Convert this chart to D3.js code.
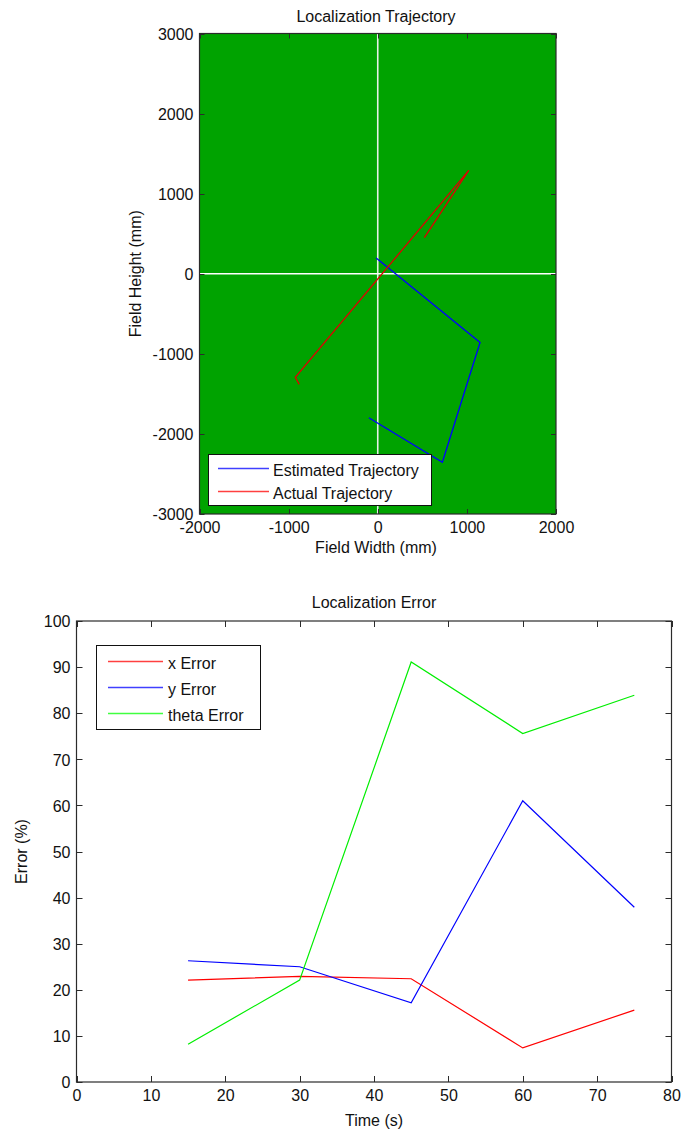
<!DOCTYPE html>
<html>
<head>
<meta charset="utf-8">
<script src="https://cdn.jsdelivr.net/npm/d3@7/dist/d3.min.js"></script>
<style>
  html, body { margin: 0; padding: 0; background: #fff; }
  svg { display: block; }
  text { font-family: "Liberation Sans", Arial, Helvetica, sans-serif; font-size: 16px; fill: #111; }
</style>
</head>
<body>
<svg id="chart" width="681" height="1133"></svg>
<script>
// ---- Trajectory data (mm) ----
const estX = [-18, 1148, 725, -100];
const estY = [197, -858, -2354, -1798];
const actX = [-881, -925, 1021, 523];
const actY = [-1381, -1294, 1290, 451];
const fieldXTicks = [-2000, -1000, 0, 1000, 2000];
const fieldYTicks = [-3000, -2000, -1000, 0, 1000, 2000, 3000];

// ---- Error data (%) over time (s) ----
const time = [15, 30, 45, 60, 75];
const xError = [22.1, 22.9, 22.4, 7.4, 15.6];
const yError = [26.3, 25.0, 17.2, 61.0, 37.9];
const thetaError = [8.2, 22.1, 91.1, 75.6, 83.9];
const timeTicks = [0, 10, 20, 30, 40, 50, 60, 70, 80];
const errorTicks = [0, 10, 20, 30, 40, 50, 60, 70, 80, 90, 100];

const svg = d3.select("#chart");
const axisColor = "#2b2b2b";
const fmt = v => String(v); // plain hyphen for negatives

// Draws a boxed axes frame with inward ticks on all four sides
function frame(g, x, y, xTicks, yTicks, tickLen) {
  const [x0, x1] = x.range();
  const [y0, y1] = y.range(); // y0 bottom, y1 top
  g.append("rect")
    .attr("x", x0).attr("y", y1)
    .attr("width", x1 - x0).attr("height", y0 - y1)
    .attr("fill", "none").attr("stroke", axisColor).attr("stroke-width", 1.2);

  xTicks.forEach(v => {
    const px = Math.round(x(v)) + 0.5;
    g.append("line").attr("x1", px).attr("x2", px).attr("y1", y0).attr("y2", y0 - tickLen)
      .attr("stroke", axisColor);
    g.append("line").attr("x1", px).attr("x2", px).attr("y1", y1).attr("y2", y1 + tickLen)
      .attr("stroke", axisColor);
  });
  yTicks.forEach(v => {
    const py = Math.round(y(v)) + 0.5;
    g.append("line").attr("x1", x0).attr("x2", x0 + tickLen).attr("y1", py).attr("y2", py)
      .attr("stroke", axisColor);
    g.append("line").attr("x1", x1).attr("x2", x1 - tickLen).attr("y1", py).attr("y2", py)
      .attr("stroke", axisColor);
  });

  // tick labels through d3 axes
  const ax = g.append("g").attr("transform", `translate(0,${y0})`)
    .call(d3.axisBottom(x).tickValues(xTicks).tickSize(0).tickPadding(19).tickFormat(fmt));
  ax.select(".domain").remove();
  ax.selectAll("text").attr("fill", "#111").style("font-size", "16px")
    .style("font-family", "'Liberation Sans', Arial, sans-serif").attr("dy", 0);

  const ay = g.append("g").attr("transform", `translate(${x0},0)`)
    .call(d3.axisLeft(y).tickValues(yTicks).tickSize(0).tickPadding(6).tickFormat(fmt));
  ay.select(".domain").remove();
  ay.selectAll("text").attr("fill", "#111").style("font-size", "16px")
    .style("font-family", "'Liberation Sans', Arial, sans-serif").attr("dy", "0.36em");
}

function legend(g, x, y, w, h, items, lineX0, lineX1, textX, rows, baseOff) {
  g.append("rect").attr("x", x + 0.5).attr("y", y + 0.5).attr("width", w).attr("height", h)
    .attr("fill", "#fff").attr("stroke", "#111").attr("stroke-width", 1);
  items.forEach((it, i) => {
    const ry = rows[i];
    g.append("line").attr("x1", lineX0).attr("x2", lineX1).attr("y1", ry).attr("y2", ry)
      .attr("stroke", it.color).attr("stroke-width", 1.6);
    g.append("text").attr("x", textX).attr("y", ry + baseOff).text(it.label);
  });
}

// ================= Localization Trajectory =================
{
  const x = d3.scaleLinear().domain([-2000, 2000]).range([199.5, 556]);
  const y = d3.scaleLinear().domain([-3000, 3000]).range([514, 33.5]);
  const g = svg.append("g");

  g.append("rect").attr("x", x(-2000)).attr("y", y(3000))
    .attr("width", x(2000) - x(-2000)).attr("height", y(-3000) - y(3000))
    .attr("fill", "#00a300");

  // field centre lines
  g.append("line").attr("x1", x(0)).attr("x2", x(0)).attr("y1", y(3000)).attr("y2", y(-3000))
    .attr("stroke", "#e6f0e6").attr("stroke-width", 1.6);
  g.append("line").attr("x1", x(-2000)).attr("x2", x(2000)).attr("y1", y(0)).attr("y2", y(0))
    .attr("stroke", "#ffffff").attr("stroke-width", 1.6);

  const line = d3.line().x(d => x(d[0])).y(d => y(d[1]));
  g.append("path").datum(estX.map((v, i) => [v, estY[i]]))
    .attr("d", line).attr("fill", "none").attr("stroke", "#0000ff").attr("stroke-width", 1.3);
  g.append("path").datum(actX.map((v, i) => [v, actY[i]]))
    .attr("d", line).attr("fill", "none").attr("stroke", "#e00000").attr("stroke-width", 1.3);

  frame(g, x, y, fieldXTicks, fieldYTicks, 5);

  g.append("text").attr("x", 376).attr("y", 22).attr("text-anchor", "middle").text("Localization Trajectory");
  g.append("text").attr("x", 376).attr("y", 553).attr("text-anchor", "middle").text("Field Width (mm)");
  g.append("text").attr("transform", `translate(141,${(y(3000) + y(-3000)) / 2}) rotate(-90)`)
    .attr("text-anchor", "middle").text("Field Height (mm)");

  legend(g, 208, 454, 223, 51,
    [{ label: "Estimated Trajectory", color: "#4040ff" }, { label: "Actual Trajectory", color: "#ff4040" }],
    218, 269, 273, [468.5, 491.5], 7);
}

// ================= Localization Error =================
{
  const x = d3.scaleLinear().domain([0, 80]).range([76.5, 671.5]);
  const y = d3.scaleLinear().domain([0, 100]).range([1082, 621]);
  const g = svg.append("g");

  frame(g, x, y, timeTicks, errorTicks, 6);

  const line = d3.line().x((d, i) => x(time[i])).y(d => y(d));
  const series = [
    { data: xError, color: "#ff0000" },
    { data: yError, color: "#0000ff" },
    { data: thetaError, color: "#00ee00" }
  ];
  series.forEach(s => {
    g.append("path").datum(s.data).attr("d", line)
      .attr("fill", "none").attr("stroke", s.color).attr("stroke-width", 1.2);
  });

  g.append("text").attr("x", 374).attr("y", 608).attr("text-anchor", "middle").text("Localization Error");
  g.append("text").attr("x", 374).attr("y", 1126).attr("text-anchor", "middle").text("Time (s)");
  g.append("text").attr("transform", `translate(27,${(y(0) + y(100)) / 2}) rotate(-90)`)
    .attr("text-anchor", "middle").text("Error (%)");

  legend(g, 96, 645, 164, 84,
    [{ label: "x Error", color: "#ff4040" }, { label: "y Error", color: "#4040ff" }, { label: "theta Error", color: "#40ff40" }],
    108, 163, 168, [661.5, 687.5, 713.5], 7);
}
</script>
</body>
</html>
